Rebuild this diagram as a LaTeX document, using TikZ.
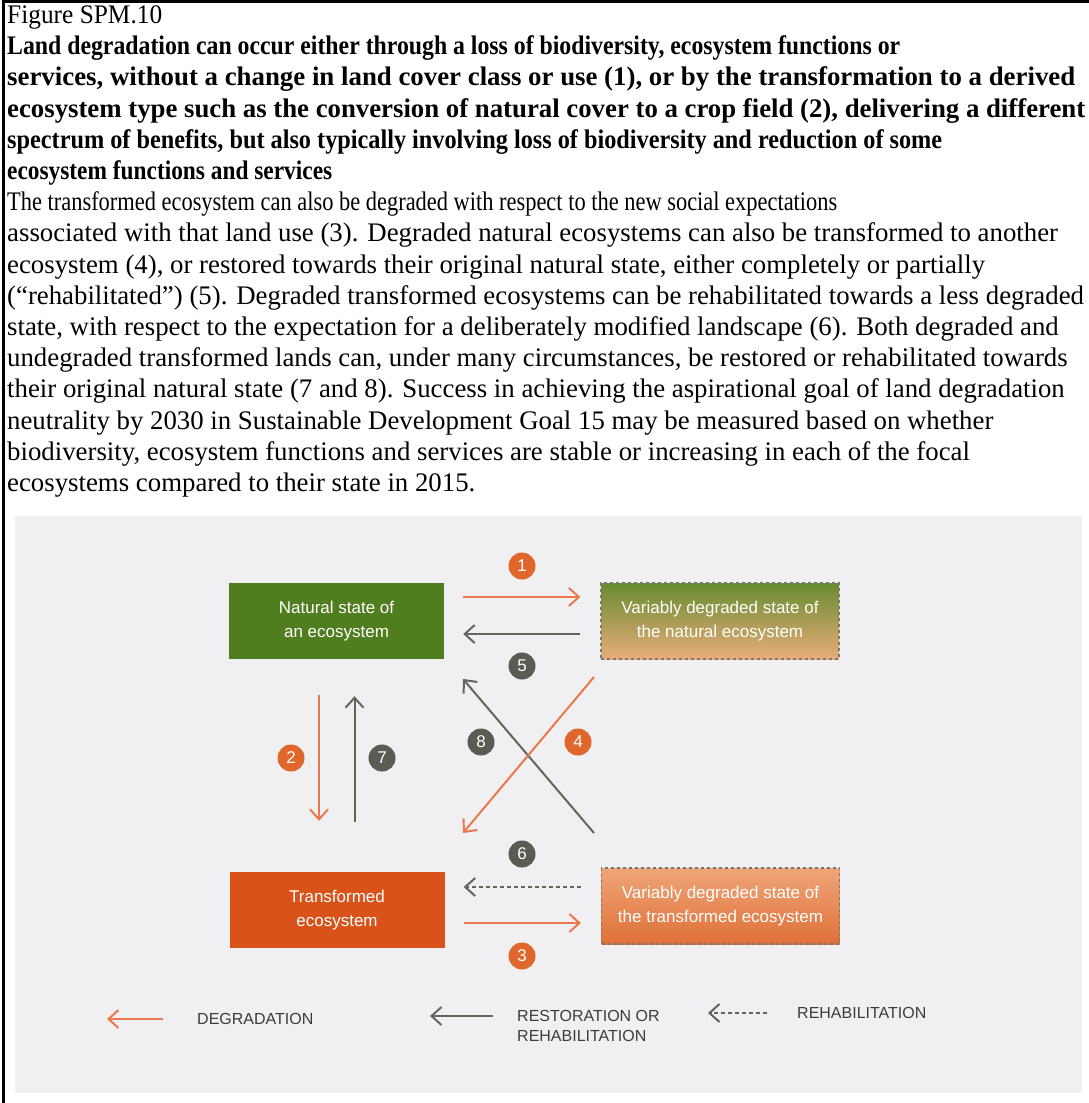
\documentclass[tikz,border=0pt]{standalone}
\usepackage{fontspec}
\setmainfont{Liberation Serif}
\setsansfont{Liberation Sans}
\usetikzlibrary{arrows.meta}

\definecolor{natgreen}{RGB}{80,126,31}
\definecolor{transred}{RGB}{216,82,25}
\definecolor{degline}{RGB}{233,121,76}
\definecolor{restline}{RGB}{98,102,92}
\definecolor{numorange}{RGB}{224,103,44}
\definecolor{numgrey}{RGB}{88,92,83}
\definecolor{panelgrey}{RGB}{240,240,242}
\definecolor{dashgrey}{RGB}{120,120,115}
\definecolor{mossgreen}{RGB}{104,140,48}
\definecolor{sandorange}{RGB}{233,172,122}
\definecolor{peach}{RGB}{238,166,120}
\definecolor{rust}{RGB}{224,112,56}
\definecolor{legendtext}{RGB}{60,60,60}

% squeeze a caption line to a given width, keeping its height
\newcommand{\fitline}[2]{\resizebox{#1pt}{\height}{#2}}

\begin{document}
\begin{tikzpicture}
  [x=1pt,y=-1pt,
   textline/.style={anchor=base west,inner sep=0,font=\fontsize{26.8}{31.2}\selectfont},
   statebox/.style={rectangle,minimum width=215pt,minimum height=76pt,inner sep=0,
     align=center,text=white,font=\sffamily\fontsize{17}{24}\selectfont},
   degbox/.style={statebox,minimum width=238pt,draw=dashgrey,dashed,line width=1.2pt},
   num/.style={circle,minimum size=27pt,inner sep=0,text=white,
     font=\sffamily\fontsize{17}{17}\selectfont},
   degarr/.style={draw=degline,line width=2pt,-{Straight Barb[length=10pt,width=18pt]}},
   restarr/.style={degarr,draw=restline},
   rehabarr/.style={restarr,dash pattern=on 4pt off 3pt},
   legtext/.style={anchor=west,align=left,inner sep=0,text=legendtext,
     font=\sffamily\fontsize{16}{20}\selectfont}]
  \useasboundingbox (0,0) rectangle (1089,1103);
  \draw[line width=2.5pt] (3.5,1103) -- (3.5,1.25) -- (1089,1.25);

  % caption text
  \node[textline] (title) at (7,23.5) {\fitline{155}{Figure SPM.10}};
  \foreach \w/\txt [count=\k from 1] in
    {893/{Land degradation can occur either through a loss of biodiversity, ecosystem functions or},
     1068/{services, without a change in land cover class or use (1), or by the transformation to a derived},
     1078/{ecosystem type such as the conversion of natural cover to a crop field (2), delivering a different},
     935/{spectrum of benefits, but also typically involving loss of biodiversity and reduction of some},
     325/{ecosystem functions and services}}
    \node[textline,font=\fontsize{26.8}{31.2}\selectfont\bfseries] (lead\k) at (7,{23.5+31.2*\k}) {\fitline{\w}{\txt}};
  \node[textline] (body6) at (7,{23.5+31.2*6})
    {\fitline{830}{The transformed ecosystem can also be degraded with respect to the new social expectations}};
  \foreach \txt [count=\k from 7] in
    {{associated with that land use (3). Degraded natural ecosystems can also be transformed to another},
     {ecosystem (4), or restored towards their original natural state, either completely or partially},
     {(“rehabilitated”) (5). Degraded transformed ecosystems can be rehabilitated towards a less degraded},
     {state, with respect to the expectation for a deliberately modified landscape (6). Both degraded and},
     {undegraded transformed lands can, under many circumstances, be restored or rehabilitated towards},
     {their original natural state (7 and 8). Success in achieving the aspirational goal of land degradation},
     {neutrality by 2030 in Sustainable Development Goal 15 may be measured based on whether},
     {biodiversity, ecosystem functions and services are stable or increasing in each of the focal},
     {ecosystems compared to their state in 2015.}}
    \node[textline] (body\k) at (7,{23.5+31.2*\k}) {\txt};

  % figure panel
  \fill[panelgrey] (15,516) rectangle (1082,1093);

  \node[statebox,fill=natgreen] (nat) at (336.5,621) {Natural state of\\an ecosystem};
  \node[degbox,top color=mossgreen,bottom color=sandorange] (degnat) at (720,621)
    {Variably degraded state of\\the natural ecosystem};
  \node[statebox,fill=transred] (trans) at (337,910) {Transformed\\ecosystem};
  \node[degbox,top color=peach,bottom color=rust] (degtrans) at (720.5,906)
    {Variably degraded state of\\the transformed ecosystem};

  % arrows between states
  \draw[degarr,shorten <=19pt,shorten >=20pt] ([yshift=24pt]nat.east) -- ([yshift=24pt]degnat.west);
  \draw[restarr,shorten <=20pt,shorten >=19pt] ([yshift=-13pt]degnat.west) -- ([yshift=-13pt]nat.east);
  \draw[degarr,shorten <=36pt,shorten >=51pt] ([xshift=-17.5pt]nat.south) -- ([xshift=-17.5pt]nat.south |- trans.north);
  \draw[restarr,shorten <=50pt,shorten >=37pt] ([xshift=17.5pt]trans.north) -- ([xshift=17.5pt]trans.north |- nat.south);
  \draw[rehabarr,shorten <=20pt,shorten >=19pt] ([yshift=19pt]degtrans.west) -- ([yshift=19pt]degtrans.west -| trans.east);
  \draw[degarr,shorten <=19pt,shorten >=20pt] ([yshift=-13pt]trans.east) -- ([yshift=-13pt]trans.east -| degtrans.west);

  \coordinate (crossne) at (594,677);
  \coordinate (crossse) at (594,833);
  \coordinate (crossnw) at (463,679);
  \coordinate (crosssw) at (463,833);
  \draw[restarr] (crossse) -- (crossnw);
  \draw[degarr] (crossne) -- (crosssw);

  \foreach \n/\x/\y/\c in {1/522/566/numorange,5/522/666/numgrey,2/291/758/numorange,
                          7/382/758/numgrey,8/481/742/numgrey,4/578/742/numorange,
                          6/522/854/numgrey,3/522/956/numorange}
    \node[num,fill=\c] (step\n) at (\x,\y) {\n};

  % legend
  \node[legtext] (legdeg) at (197,1019) {DEGRADATION};
  \node[legtext] (legrest) at (517,1026) {RESTORATION OR\\REHABILITATION};
  \node[legtext] (legrehab) at (797,1013) {REHABILITATION};
  \draw[degarr] ([xshift=-34pt]legdeg.west) -- ([xshift=-90pt]legdeg.west);
  \draw[restarr] ([shift={(-24pt,10pt)}]legrest.west) -- ([shift={(-87pt,10pt)}]legrest.west);
  \draw[rehabarr] ([xshift=-30pt]legrehab.west) -- ([xshift=-89pt]legrehab.west);
\end{tikzpicture}
\end{document}
